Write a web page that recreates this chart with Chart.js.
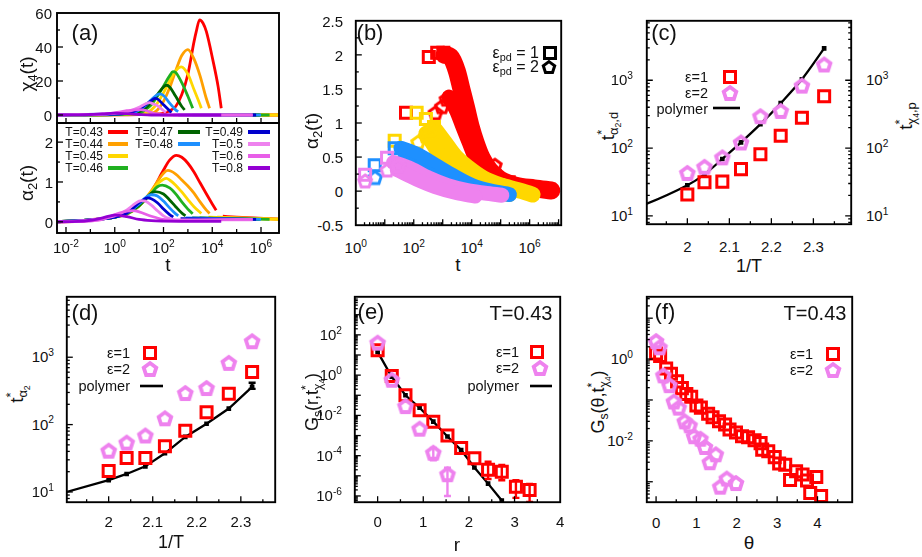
<!DOCTYPE html>
<html>
<head>
<meta charset="utf-8">
<title>alpha2 / chi4 panels</title>
<script src="https://cdn.jsdelivr.net/npm/chart.js@4.4.1/dist/chart.umd.min.js"></script>
<style>
  html, body { margin: 0; padding: 0; background: #fff; }
  body { position: relative; width: 922px; height: 557px; overflow: hidden;
         font-family: "Liberation Sans", Arial, Helvetica, sans-serif; color: #111; }
  canvas { position: absolute; }
  .lbl { position: absolute; white-space: nowrap; line-height: 1; }
  .sp { font-size: 0.68em; position: relative; top: -0.62em; }
  .sb { font-size: 0.68em; position: relative; top: 0.32em; }
</style>
</head>
<body>
<script>
// ============================================================
// DATA — values
// ============================================================

// (a) one array of [t, value] per temperature; [t, null] breaks the line
const tempLabels = ['T=0.43', 'T=0.44', 'T=0.45', 'T=0.46', 'T=0.47', 'T=0.48', 'T=0.49', 'T=0.5', 'T=0.6', 'T=0.8'];

const chi4_043 = [[4e-3,0],[1e1,0.3],[3.2e1,0.6],[1e2,1],[1.78e2,2.5],[3.16e2,5],[5.62e2,12],[1e3,24],[1.78e3,43],[2.2e3,49],[3.02e3,56],[4.2e3,54],[5.75e3,49],[1.07e4,32],[1.74e4,16.7],[2.34e4,4],[2.34e4,null],[3.2e4,0],[1e7,0]];
const chi4_044 = [[4e-3,0],[1e1,0.5],[3.16e1,1],[5.62e1,3],[1e2,8],[1.78e2,16],[3.16e2,26],[5.62e2,35],[1e3,38.5],[1.78e3,33],[3.16e3,23],[5.62e3,10],[7.76e3,4],[7.76e3,null],[1.78e4,0],[1e7,0]];
const chi4_045 = [[4e-3,0],[3.16e0,0.3],[1e1,0.8],[1.78e1,1],[3.16e1,3],[5.62e1,7],[1e2,13],[1.78e2,20],[3.16e2,26],[5.37e2,28.3],[1e3,24],[1.78e3,15],[3.16e3,6],[3.55e3,4],[3.55e3,null],[7e3,0],[1e7,0]];
const chi4_046 = [[4e-3,0],[1e0,0.2],[3.16e0,0.6],[1e1,1],[1.78e1,3],[3.16e1,6],[5.62e1,11],[1e2,17],[1.78e2,23],[2.45e2,25.5],[3.16e2,25],[5.62e2,19],[1e3,11],[1.58e3,4],[1.58e3,null],[3e3,0],[2.24e6,0]];
const chi4_047 = [[4e-3,0],[1e0,0.3],[3.16e0,1],[1e1,2],[1.78e1,4],[3.16e1,7.5],[5.62e1,12],[1e2,16.5],[1.32e2,17.5],[1.78e2,16.5],[3.16e2,11],[5.62e2,5],[7.4e2,3],[7.4e2,null],[1.5e3,0],[8.9e5,0]];
const chi4_048 = [[4e-3,0],[1e0,0.5],[5.62e0,1.5],[1e1,3],[1.78e1,5.5],[3.16e1,9],[5.62e1,12],[6.9e1,12.4],[1e2,11.5],[1.78e2,7],[3.16e2,3],[4e2,2],[4e2,null],[8e2,0],[1e6,0]];
const chi4_049 = [[4e-3,0],[3.16e-1,0.5],[3.16e0,1],[5.62e0,2],[1e1,3.5],[1.78e1,6],[3.16e1,8.5],[4.4e1,9.8],[5.62e1,9.5],[1e2,6],[1.78e2,2.5],[2.1e2,1.4],[2.1e2,null],[4e2,0],[6.3e5,0]];
const chi4_050 = [[4e-3,0],[1e-1,0.3],[1e0,1],[3.16e0,2],[5.62e0,3],[1e1,4.5],[1.78e1,6.5],[2.7e1,7.3],[3.16e1,7],[5.62e1,5.5],[1e2,2.5],[1.26e2,1.5],[1.26e2,null],[2.5e2,0],[4.5e5,0]];
const chi4_060 = [[4e-3,0],[3.16e-2,0.2],[3.16e-1,0.5],[1e0,1.3],[3.16e0,2.5],[1e1,3.2],[1.78e1,2.8],[3.16e1,1.5],[5.62e1,0.5],[1e2,0],[4.6e5,0]];
const chi4_080 = [[4e-3,0],[3.16e-2,0.1],[1e-1,0.3],[3.16e-1,0.7],[1e0,1.1],[3.16e0,0.8],[1e1,0.3],[3.16e1,0],[2.34e4,0]];

const a2_043 = [[4e-3,0],[3.16e-2,0.01],[1e-1,0.05],[3.16e-1,0.08],[1e0,0.12],[3.16e0,0.2],[1e1,0.4],[3.16e1,0.75],[1e2,1.3],[1.78e2,1.55],[3.39e2,1.67],[5.62e2,1.62],[1e3,1.47],[1.78e3,1.25],[3.16e3,0.98],[5.62e3,0.71],[1e4,0.45],[1.45e4,0.29],[1.45e4,null],[2.7e4,0.14],[1e5,0.12],[1e7,0.06]];
const a2_044 = [[4e-3,0],[1e-1,0.05],[1e0,0.12],[3.16e0,0.2],[1e1,0.4],[3.16e1,0.78],[1e2,1.22],[1.51e2,1.29],[3.16e2,1.2],[5.62e2,1.05],[1e3,0.9],[1.78e3,0.72],[3.16e3,0.5],[5.62e3,0.3],[7.76e3,0.21],[7.76e3,null],[1.6e4,0.12],[1e7,0.06]];
const a2_045 = [[4e-3,0],[1e-1,0.05],[1e0,0.12],[3.16e0,0.2],[1e1,0.4],[3.16e1,0.75],[5.62e1,0.95],[1e2,1.07],[1.32e2,1.09],[1.78e2,1.05],[3.16e2,0.92],[5.62e2,0.75],[1e3,0.56],[1.78e3,0.38],[3.55e3,0.21],[3.55e3,null],[7e3,0.12],[1e7,0.06]];
const a2_046 = [[4e-3,0],[1e-1,0.05],[1e0,0.12],[3.16e0,0.2],[1e1,0.4],[3.16e1,0.72],[5.62e1,0.88],[8.9e1,0.92],[1.78e2,0.85],[3.16e2,0.7],[5.62e2,0.5],[1e3,0.32],[1.58e3,0.2],[1.58e3,null],[3e3,0.1],[2.24e6,0.06]];
const a2_047 = [[4e-3,0],[1e-1,0.05],[1e0,0.12],[3.16e0,0.22],[1e1,0.42],[1.78e1,0.58],[3.16e1,0.72],[4.5e1,0.76],[1e2,0.7],[1.78e2,0.55],[3.16e2,0.38],[5.62e2,0.22],[7.9e2,0.15],[7.9e2,null],[1.5e3,0.1],[8.9e5,0.06]];
const a2_048 = [[4e-3,0],[1e-1,0.05],[1e0,0.12],[3.16e0,0.22],[1e1,0.45],[1.78e1,0.6],[3.16e1,0.68],[5.62e1,0.65],[1e2,0.52],[1.78e2,0.35],[3.16e2,0.2],[4e2,0.15],[4e2,null],[8e2,0.1],[1e6,0.06]];
const a2_049 = [[4e-3,0],[1e-1,0.05],[1e0,0.12],[3.16e0,0.22],[1e1,0.48],[1.78e1,0.58],[2.2e1,0.6],[3.16e1,0.58],[5.62e1,0.48],[1e2,0.32],[1.78e2,0.18],[2.5e2,0.12],[2.5e2,null],[5e2,0.08],[6.3e5,0.06]];
const a2_050 = [[4e-3,0],[1e-1,0.05],[1e0,0.15],[3.16e0,0.3],[5.62e0,0.42],[1e1,0.52],[1.26e1,0.53],[1.78e1,0.52],[3.16e1,0.42],[5.62e1,0.28],[1e2,0.15],[1.78e2,0.08],[3.16e2,0.05],[4.5e5,0.05]];
const a2_060 = [[4e-3,0],[1e-1,0.02],[3.16e-1,0.06],[1e0,0.18],[3.16e0,0.27],[5.62e0,0.28],[1e1,0.25],[3.16e1,0.14],[1e2,0.06],[3.16e2,0.03],[1e5,0.06],[4.6e5,0.06]];
const a2_080 = [[4e-3,0],[3.16e-2,0.01],[1e-1,0.04],[3.16e-1,0.1],[1e0,0.17],[3.16e0,0.13],[1e1,0.06],[3.16e1,0.03],[1e2,0.02],[2.34e4,0.01]];

// (b) alpha_2(t): isolated markers plus the dense marker bands, eps_pd = 1 and 2
const bRedSq    = [[54,1.15],[331,1.97],[646,2.03],[1050,2.03],[6.3e4,0.22],[1.9e5,0.13]];
const bRedBand1 = [[1.15e3,2.0],[1.86e3,1.97],[3.09e3,1.76],[4.47e3,1.49],[6.46e3,1.22],[9.33e3,0.94],[1.35e4,0.72],[2.19e4,0.49],[4.07e4,0.31],[9.55e4,0.17],[3.31e5,0.08],[1.45e6,0.04],[5.62e6,0.01]];
const bRedPt    = [[562,1.15],[933,1.24],[1350,1.35],[6.3e4,0.38]];
const bRedBand2 = [[1.66e3,1.38],[3.09e3,1.17],[5.01e3,0.94],[8.13e3,0.72],[1.35e4,0.49],[2.82e4,0.31],[7.59e4,0.17],[2.57e5,0.1]];
const bYelSq    = [[22,0.74],[126,1.15],[263,1.06],[501,0.94]];
const bYelBand1 = [[550,0.9],[1.15e3,0.72],[2.69e3,0.51],[7.24e3,0.35],[2.51e4,0.19],[1.1e5,0.08],[5.37e5,0],[1.26e6,-0.05]];
const bYelPt    = [[141,0.72],[263,0.81],[380,0.9]];
const bYelBand2 = [[263,0.85],[490,0.67],[1e3,0.47],[2.69e3,0.29],[1.05e4,0.13],[4.57e4,0.01],[2e5,-0.05]];
const bBluSq    = [[4.5,0.38],[22,0.63]];
const bBluBand1 = [[36,0.63],[126,0.54],[550,0.38],[2.4e3,0.22],[1.05e4,0.08],[4.57e4,0],[2e5,-0.05]];
const bBluPt    = [[4.6,0.2]];
const bBluBand2 = [[40,0.45],[204,0.31],[1.15e3,0.15],[6.46e3,0.04],[2.82e4,-0.03]];
const bVioSq    = [[2.1,0.24],[12,0.49]];
const bVioBand1 = [[20,0.42],[76,0.33],[331,0.19],[1.48e3,0.08],[6.46e3,0.01],[2.82e4,-0.03],[1.1e5,-0.06]];
const bVioPt    = [[2.1,0.15],[12.3,0.31],[29,0.38]];
const bVioBand2 = [[26,0.31],[126,0.17],[550,0.06],[3.09e3,-0.03],[1.35e4,-0.08]];

// (c), (d) characteristic times vs 1/T
const invT      = [2.0, 2.0408, 2.0833, 2.1277, 2.1739, 2.2222, 2.2727, 2.3256];
const polyInvT  = [1.6667, 2.0, 2.0408, 2.0833, 2.1277, 2.1739, 2.2222, 2.2727, 2.3256];
const cEps1 = [20.6, 31.4, 32, 48.9, 81, 152, 280, 580];
const cEps2 = [43, 53, 73, 121, 295, 353, 835, 1710];
const cPoly = [4.3, 28.3, 41, 69, 121, 225, 459, 1032, 2950];
const dEps1 = [20.5, 32, 32, 47.8, 81, 152, 288, 603];
const dEps2 = [41, 54, 69, 124, 294, 349, 826, 1730];
const dPoly = [3.65, 15, 18.5, 24, 37.5, 65.6, 103, 173, 363];
const dPolyErrLo = [null, null, null, null, null, null, null, null, 339];
const dPolyErrHi = [null, null, null, null, null, null, null, null, 417];

// (e) G_s(r, t*) at T=0.43
const eR    = [0, 0.31, 0.61, 0.92, 1.22, 1.53, 1.83, 2.12, 2.42, 2.72, 3.03, 3.33];
const eEps1 = [17, 0.9, 0.1, 0.018, 0.0049, 1e-3, 2.4e-4, 7.5e-5, 2e-5, 1.6e-5, 2.9e-6, 2e-6];
const eEps1ErrLo = [null, null, null, null, null, null, null, null, 7e-6, 6e-6, 8e-7, 5e-7];
const eEps1ErrHi = [null, null, null, null, null, null, null, null, 5e-5, 3.5e-5, 6e-6, 4e-6];
const eEps2 = [41, 0.59, 0.029, 2.2e-3, 1.4e-4, 1.2e-5];
const eEps2ErrLo = [null, null, null, null, 5.9e-5, 1e-6];
const eEps2ErrHi = [null, null, null, null, 2.4e-4, 2.5e-5];
const ePoly = [14.3, 0.83, 0.1, 0.024, 0.0049, 9e-4, 1.9e-4, 2.6e-5, 4.1e-6, 5.9e-7];

// (f) G_s(theta, t*) at T=0.43
const fTh1  = [0, 0.1, 0.25, 0.37, 0.52, 0.64, 0.75, 0.87, 1.0, 1.11, 1.29, 1.4, 1.56, 1.71, 1.82, 1.98, 2.13, 2.28, 2.44, 2.59, 2.63, 2.78, 2.94, 3.05, 3.2, 3.32, 3.47, 3.63, 3.74, 3.82, 3.97, 4.09];
const fEps1 = [1.37, 1.19, 0.59, 0.44, 0.285, 0.195, 0.14, 0.12, 0.073, 0.065, 0.046, 0.038, 0.03, 0.025, 0.019, 0.016, 0.013, 0.0123, 0.0104, 0.0088, 0.0061, 0.0056, 0.004, 0.0028, 0.0026, 0.0011, 0.0018, 0.0015, 0.00107, 5.3e-4, 1.3e-3, 4.5e-4];
const fTh2  = [0, 0.085, 0.18, 0.33, 0.44, 0.56, 0.71, 0.83, 0.94, 1.1, 1.21, 1.33, 1.48, 1.59, 1.75, 1.98];
const fEps2 = [2.75, 1.94, 0.4, 0.23, 0.092, 0.065, 0.03, 0.024, 0.013, 0.0113, 0.0071, 0.003, 0.0047, 7.6e-4, 1.2e-3, 9.3e-4];

// tick labels
const aXTickExp = [-2, 0, 2, 4, 6];
const a1YTicks = [0, 20, 40, 60];
const a2YTicks = [0, 1, 2];
const bXTickExp = [0, 2, 4, 6];
const bYTicks = [-0.5, 0, 0.5, 1, 1.5, 2, 2.5];
const cdXTicks = [2, 2.1, 2.2, 2.3];
const cdYTickExp = [1, 2, 3];
const efXTicks = [0, 1, 2, 3, 4];
const eYTickExp = [-6, -4, -2, 0, 2];
const fYTickExp = [-2, 0];

// ============================================================
// STYLE
// ============================================================
const tempColors = ['#ff0000', '#ffa000', '#ffd700', '#20b020', '#006400', '#1e90ff', '#0000cd', '#ee82ee', '#e85ee8', '#9400d3'];
const RED = '#ff0000', YEL = '#ffd700', BLU = '#1e90ff', VIO = '#ee82ee';
const PAD = 3;

// plot rectangles in page pixels
const R = {
  a1: { l: 57,  t: 13,  r: 279, b: 123 },
  a2: { l: 57,  t: 123, r: 279, b: 233 },
  b:  { l: 348, t: 13,  r: 569, b: 233 },
  c:  { l: 639, t: 13,  r: 859, b: 232 },
  d:  { l: 59,  t: 289, r: 283, b: 510 },
  e:  { l: 347, t: 289, r: 568, b: 510 },
  f:  { l: 639, t: 289, r: 860, b: 510 }
};

// ============================================================
// HELPERS
// ============================================================
const zip = (xs, ys) => xs.map((x, i) => [x, ys[i]]);
const pow10 = e => '10<span class="sp">' + e + '</span>';

function range(a, b, step) {
  const out = [];
  for (let v = a; v <= b + 1e-9; v += step) out.push(+v.toFixed(6));
  return out;
}
function decades(e0, e1) {
  const out = [];
  for (let e = e0; e <= e1; e++) out.push(Math.pow(10, e));
  return out;
}
function logMinors(e0, e1) {
  const out = [];
  for (let e = e0; e <= e1; e++) for (let k = 2; k <= 9; k++) out.push(k * Math.pow(10, e));
  return out;
}

function pentagon(color, r, lw) {
  const s = Math.ceil(2 * r + lw + 3);
  const c = document.createElement('canvas');
  c.width = c.height = s;
  const g = c.getContext('2d');
  g.beginPath();
  for (let i = 0; i < 5; i++) {
    const a = -Math.PI / 2 + i * 2 * Math.PI / 5;
    const x = s / 2 + r * Math.cos(a), y = s / 2 + r * Math.sin(a) + r * 0.1;
    if (i) g.lineTo(x, y); else g.moveTo(x, y);
  }
  g.closePath();
  g.lineWidth = lw;
  g.strokeStyle = color;
  g.stroke();
  return c;
}

function txt(html, x, y, o = {}) {
  const d = document.createElement('div');
  d.className = 'lbl';
  d.innerHTML = html;
  d.style.fontSize = (o.size || 15) + 'px';
  d.style.left = x + 'px';
  d.style.top = y + 'px';
  const ax = o.align === 'right' ? '-100%' : o.align === 'left' ? '0' : '-50%';
  d.style.transform = `translate(${ax},-50%)` + (o.rot ? ' rotate(-90deg)' : '');
  document.body.appendChild(d);
}

function lineDs(data, color, width, extra) {
  return Object.assign({
    data, borderColor: color, backgroundColor: color, borderWidth: width,
    pointRadius: 0, tension: 0, spanGaps: false, fill: false, clip: 0
  }, extra || {});
}
function markDs(data, style, color, extra) {
  return Object.assign({
    data, showLine: false, pointStyle: style, pointRadius: 7.8,
    pointBorderColor: color, pointBackgroundColor: 'rgba(0,0,0,0)',
    pointBorderWidth: 3, clip: 0
  }, extra || {});
}
function polyDs(data, extra) {
  return lineDs(data, '#000', 2.3, Object.assign({
    pointRadius: 3.3, pointStyle: 'rect', pointBackgroundColor: '#000', pointBorderWidth: 0
  }, extra || {}));
}

// ============================================================
// DECOR PLUGIN — frame, inward ticks, error bars, legend symbols
// ============================================================
const DECOR = {};

const decorPlugin = {
  id: 'decor',
  afterDatasetsDraw(chart) {
    const spec = DECOR[chart.canvas.id];
    if (!spec) return;
    const ctx = chart.ctx, a = chart.chartArea;
    const rect = spec.rect;
    ctx.save();

    // error bars
    chart.data.datasets.forEach((ds, di) => {
      if (!ds.errLo) return;
      const meta = chart.getDatasetMeta(di);
      const ys = chart.scales.y;
      ctx.save();
      ctx.beginPath();
      ctx.rect(a.left, a.top, a.right - a.left, a.bottom - a.top);
      ctx.clip();
      ctx.strokeStyle = ds.errColor;
      ctx.lineWidth = 2.4;
      ds.errLo.forEach((lo, j) => {
        if (lo == null) return;
        const x = meta.data[j].x;
        const y1 = ys.getPixelForValue(lo), y2 = ys.getPixelForValue(ds.errHi[j]);
        ctx.beginPath();
        ctx.moveTo(x, y1); ctx.lineTo(x, y2);
        ctx.moveTo(x - 3.5, y1); ctx.lineTo(x + 3.5, y1);
        ctx.moveTo(x - 3.5, y2); ctx.lineTo(x + 3.5, y2);
        ctx.stroke();
      });
      ctx.restore();
    });

    // frame
    ctx.strokeStyle = '#000';
    ctx.lineWidth = 1.9;
    ctx.strokeRect(a.left, a.top, a.right - a.left, a.bottom - a.top);

    // ticks pointing into the plot
    ctx.lineWidth = 1.3;
    (spec.ticks || []).forEach(t => {
      const sc = chart.scales[t.axis];
      t.values.forEach(v => {
        const p = sc.getPixelForValue(v);
        ctx.beginPath();
        if (t.axis === 'x') {
          if (p <= a.left + 1 || p >= a.right - 1) return;
          t.sides.forEach(s => {
            const y0 = s === 'top' ? a.top : a.bottom;
            const dir = s === 'top' ? 1 : -1;
            ctx.moveTo(p, y0); ctx.lineTo(p, y0 + dir * t.len);
          });
        } else {
          if (p <= a.top + 1 || p >= a.bottom - 1) return;
          t.sides.forEach(s => {
            const x0 = s === 'right' ? a.right : a.left;
            const dir = s === 'right' ? -1 : 1;
            ctx.moveTo(x0, p); ctx.lineTo(x0 + dir * t.len, p);
          });
        }
        ctx.stroke();
      });
    });

    // legend symbols (page coordinates)
    const ox = rect.l - PAD, oy = rect.t - PAD;
    (spec.syms || []).forEach(s => {
      if (s.k === 'line') {
        ctx.strokeStyle = s.color;
        ctx.lineWidth = s.w;
        ctx.beginPath();
        ctx.moveTo(s.x1 - ox, s.y - oy);
        ctx.lineTo(s.x2 - ox, s.y - oy);
        ctx.stroke();
      } else if (s.k === 'rect') {
        ctx.strokeStyle = s.color;
        ctx.lineWidth = 3;
        ctx.strokeRect(s.x - ox - 5.5, s.y - oy - 5.5, 11, 11);
      } else if (s.k === 'pent') {
        ctx.drawImage(s.img, s.x - ox - s.img.width / 2, s.y - oy - s.img.height / 2);
      }
    });
    ctx.restore();
  }
};

function makePanel(id, rect, xOpt, yOpt, datasets, decor) {
  const cv = document.createElement('canvas');
  cv.id = id;
  cv.width = rect.r - rect.l + 2 * PAD;
  cv.height = rect.b - rect.t + 2 * PAD;
  cv.style.left = (rect.l - PAD) + 'px';
  cv.style.top = (rect.t - PAD) + 'px';
  document.body.appendChild(cv);

  DECOR[id] = Object.assign({ rect }, decor);
  // first dataset in the list is drawn first (bottom)
  datasets.forEach((d, i) => { d.order = datasets.length - i; });

  return new Chart(cv.getContext('2d'), {
    type: 'line',
    data: { datasets },
    options: {
      responsive: false,
      animation: false,
      events: [],
      layout: { padding: PAD },
      plugins: { legend: { display: false }, tooltip: { enabled: false } },
      scales: {
        x: Object.assign({ display: false, bounds: 'data' }, xOpt),
        y: Object.assign({ display: false, bounds: 'data' }, yOpt)
      }
    },
    plugins: [decorPlugin]
  });
}

function xLabels(chart, rect, values, fmt, y, size) {
  values.forEach(v => txt(fmt(v), rect.l - PAD + chart.scales.x.getPixelForValue(v), y, { size }));
}
function yLabels(chart, rect, values, fmt, x, align, size) {
  values.forEach(v => txt(fmt(v), x, rect.t - PAD + chart.scales.y.getPixelForValue(v), { size, align }));
}

// ============================================================
// MARKER IMAGES
// ============================================================
const pentVio = pentagon(VIO, 6.6, 3.8);
const pentRed = pentagon(RED, 6.6, 3);
const pentYel = pentagon(YEL, 6.6, 3);
const pentBlu = pentagon(BLU, 6.6, 3);
const pentVio2 = pentagon(VIO, 6.6, 3);
const pentBlack = pentagon('#000', 6, 3);

// ============================================================
// (a) chi_4(t) and alpha_2(t)
// ============================================================
const chi4Series = [chi4_043, chi4_044, chi4_045, chi4_046, chi4_047, chi4_048, chi4_049, chi4_050, chi4_060, chi4_080];
const a2Series = [a2_043, a2_044, a2_045, a2_046, a2_047, a2_048, a2_049, a2_050, a2_060, a2_080];
const aX = { type: 'logarithmic', min: Math.pow(10, -2.369), max: Math.pow(10, 6.738) };
const smooth = { cubicInterpolationMode: 'monotone' };

const chartA1 = makePanel('pa1', R.a1, aX, { type: 'linear', min: -4.7, max: 60 },
  chi4Series.map((s, i) => lineDs(s, tempColors[i], 2.8, smooth)),
  { ticks: [
      { axis: 'x', values: decades(-2, 6), len: 5, sides: ['bottom'] },
      { axis: 'y', values: a1YTicks, len: 6, sides: ['left'] },
      { axis: 'y', values: [10, 30, 50], len: 3, sides: ['left'] }
  ] });

const aLegendSyms = [];
const aLegendCols = [
  { items: [0, 1, 2, 3], tx: 103, x1: 108, x2: 128 },
  { items: [4, 5], tx: 173, x1: 178, x2: 200 },
  { items: [6, 7, 8, 9], tx: 243, x1: 248, x2: 270 }
];
const aLegendRows = [132, 144, 156, 168];
aLegendCols.forEach(col => col.items.forEach((ti, r) => {
  aLegendSyms.push({ k: 'line', x1: col.x1, x2: col.x2, y: aLegendRows[r], color: tempColors[ti], w: 4 });
}));

const chartA2 = makePanel('pa2', R.a2, aX, { type: 'linear', min: -0.28, max: 2.48 },
  a2Series.map((s, i) => lineDs(s, tempColors[i], 2.8, smooth)),
  { ticks: [
      { axis: 'x', values: decades(-2, 6).filter((v, i) => i % 2 === 0), len: 6, sides: ['bottom'] },
      { axis: 'x', values: decades(-1, 5).filter((v, i) => i % 2 === 0), len: 4, sides: ['bottom'] },
      { axis: 'y', values: a2YTicks, len: 6, sides: ['left'] },
      { axis: 'y', values: [0.5, 1.5], len: 3, sides: ['left'] }
  ], syms: aLegendSyms });

yLabels(chartA1, R.a1, a1YTicks, String, 52, 'right', 15);
yLabels(chartA2, R.a2, a2YTicks, String, 53, 'right', 15);
xLabels(chartA2, R.a2, aXTickExp.map(e => Math.pow(10, e)), v => pow10(Math.round(Math.log10(v))), 248, 15);
txt('t', 168, 264, { size: 19 });
txt('χ<span class="sb">4</span>(t)', 26, 74, { size: 19, rot: true });
txt('α<span class="sb">2</span>(t)', 26, 183, { size: 19, rot: true });
txt('(a)', 85, 33, { size: 22 });
aLegendCols.forEach(col => col.items.forEach((ti, r) => {
  txt(tempLabels[ti], col.tx, aLegendRows[r], { size: 12, align: 'right' });
}));

// ============================================================
// (b) alpha_2(t) for eps_pd = 1, 2
// ============================================================
const band = { borderCapStyle: 'round', borderJoinStyle: 'round', cubicInterpolationMode: 'monotone' };
const chartB = makePanel('pb', R.b, { type: 'logarithmic', min: 1, max: Math.pow(10, 7.09) }, { type: 'linear', min: -0.5, max: 2.5 }, [
  lineDs(bRedBand1, RED, 18, band),
  lineDs(bRedBand2, RED, 15, band),
  markDs(bRedSq, 'rect', RED),
  markDs(bRedPt, pentRed, RED),
  lineDs(bYelBand1, YEL, 16, band),
  lineDs(bYelBand2, YEL, 15, band),
  markDs(bYelSq, 'rect', YEL),
  markDs(bYelPt, pentYel, YEL),
  lineDs(bBluBand1, BLU, 15, band),
  lineDs(bBluBand2, BLU, 13, band),
  markDs(bBluSq, 'rect', BLU),
  markDs(bBluPt, pentBlu, BLU),
  lineDs(bVioBand1, VIO, 15, band),
  lineDs(bVioBand2, VIO, 14, band),
  markDs(bVioSq, 'rect', VIO),
  markDs(bVioPt, pentVio2, VIO)
], { ticks: [
    { axis: 'x', values: decades(0, 7), len: 6, sides: ['bottom'] },
    { axis: 'x', values: logMinors(0, 6), len: 3, sides: ['bottom'] },
    { axis: 'y', values: range(-0.5, 2.5, 0.5), len: 6, sides: ['left'] },
    { axis: 'y', values: range(-0.25, 2.25, 0.5), len: 3, sides: ['left'] }
  ], syms: [
    { k: 'rect', x: 550, y: 53, color: '#000' },
    { k: 'pent', x: 549, y: 67, img: pentBlack }
  ] });

yLabels(chartB, R.b, bYTicks, String, 343, 'right', 15);
xLabels(chartB, R.b, bXTickExp.map(e => Math.pow(10, e)), v => pow10(Math.round(Math.log10(v))), 248, 15);
txt('t', 458, 264, { size: 19 });
txt('α<span class="sb">2</span>(t)', 311, 131, { size: 19, rot: true });
txt('(b)', 370, 33, { size: 22 });
txt('ε<span class="sb">pd</span> = 1', 539, 53, { size: 16, align: 'right' });
txt('ε<span class="sb">pd</span> = 2', 539, 67, { size: 16, align: 'right' });

// ============================================================
// (c) t*_{alpha2,d} and t*_{chi4,p} vs 1/T
// ============================================================
const logTicksCD = [
  { axis: 'x', values: cdXTicks, len: 6, sides: ['bottom'] },
  { axis: 'x', values: range(1.95, 2.35, 0.1), len: 3, sides: ['bottom'] }
];
const chartC = makePanel('pc', R.c, { type: 'linear', min: 1.9035, max: 2.39 }, { type: 'logarithmic', min: Math.pow(10, 0.877), max: Math.pow(10, 3.877) }, [
  polyDs(zip(polyInvT, cPoly), { cubicInterpolationMode: 'monotone' }),
  markDs(zip(invT, cEps1), 'rect', RED),
  markDs(zip(invT, cEps2), pentVio, VIO)
], { ticks: logTicksCD.concat([
    { axis: 'y', values: decades(1, 3), len: 6, sides: ['left', 'right'] },
    { axis: 'y', values: logMinors(0, 3), len: 3, sides: ['left', 'right'] }
  ]), syms: [
    { k: 'rect', x: 730, y: 77, color: RED },
    { k: 'pent', x: 730, y: 93, img: pentVio },
    { k: 'line', x1: 713, x2: 740, y: 108, color: '#000', w: 2.6 }
  ] });

xLabels(chartC, R.c, cdXTicks, String, 246, 15);
yLabels(chartC, R.c, cdYTickExp.map(e => Math.pow(10, e)), v => pow10(Math.round(Math.log10(v))), 633, 'right', 15);
yLabels(chartC, R.c, cdYTickExp.map(e => Math.pow(10, e)), v => pow10(Math.round(Math.log10(v))), 866, 'left', 15);
txt('1/T', 749, 266, { size: 18 });
txt('t<span class="sp">*</span><span class="sb" style="margin-left:-0.4em">α<span class="sb">2</span>,d</span>', 607, 126, { size: 19, rot: true });
txt('t<span class="sp">*</span><span class="sb" style="margin-left:-0.4em">χ<span class="sb">4</span>,p</span>', 905, 116, { size: 19, rot: true });
txt('(c)', 664, 33, { size: 22 });
txt('ε=1', 708, 77, { size: 14.5, align: 'right' });
txt('ε=2', 708, 93, { size: 14.5, align: 'right' });
txt('polymer', 708, 109, { size: 14.5, align: 'right' });

// ============================================================
// (d) t*_{alpha2} vs 1/T
// ============================================================
const chartD = makePanel('pd', R.d, { type: 'linear', min: 1.905, max: 2.378 }, { type: 'logarithmic', min: Math.pow(10, 0.848), max: Math.pow(10, 3.897) }, [
  polyDs(zip(polyInvT, dPoly), { errLo: dPolyErrLo, errHi: dPolyErrHi, errColor: '#000' }),
  markDs(zip(invT, dEps1), 'rect', RED),
  markDs(zip(invT, dEps2), pentVio, VIO)
], { ticks: logTicksCD.concat([
    { axis: 'y', values: decades(1, 3), len: 6, sides: ['left'] },
    { axis: 'y', values: logMinors(0, 3), len: 3, sides: ['left'] }
  ]), syms: [
    { k: 'rect', x: 150, y: 353, color: RED },
    { k: 'pent', x: 150, y: 369, img: pentVio },
    { k: 'line', x1: 140, x2: 163, y: 386, color: '#000', w: 2.6 }
  ] });

xLabels(chartD, R.d, cdXTicks, String, 521, 15);
yLabels(chartD, R.d, cdYTickExp.map(e => Math.pow(10, e)), v => pow10(Math.round(Math.log10(v))), 54, 'right', 15);
txt('1/T', 171, 542, { size: 18 });
txt('t<span class="sp">*</span><span class="sb" style="margin-left:-0.4em">α<span class="sb">2</span></span>', 16, 394, { size: 19, rot: true });
txt('(d)', 85, 313, { size: 22 });
txt('ε=1', 130, 353, { size: 14.5, align: 'right' });
txt('ε=2', 130, 369, { size: 14.5, align: 'right' });
txt('polymer', 130, 386, { size: 14.5, align: 'right' });

// ============================================================
// (e) G_s(r, t*_chi4)
// ============================================================
const chartE = makePanel('pe', R.e, { type: 'linear', min: -0.5, max: 4.0 }, { type: 'logarithmic', min: Math.pow(10, -6.31), max: Math.pow(10, 3.89) }, [
  polyDs(zip(eR, ePoly)),
  markDs(zip(eR, eEps1), 'rect', RED, { errLo: eEps1ErrLo, errHi: eEps1ErrHi, errColor: RED }),
  markDs(zip(eR, eEps2), pentVio, VIO, { errLo: eEps2ErrLo, errHi: eEps2ErrHi, errColor: VIO })
], { ticks: [
    { axis: 'x', values: efXTicks, len: 6, sides: ['bottom'] },
    { axis: 'x', values: range(-0.5, 3.5, 1), len: 3, sides: ['bottom'] },
    { axis: 'y', values: decades(-6, 3), len: 6, sides: ['left'] },
    { axis: 'y', values: logMinors(-7, 3), len: 3, sides: ['left'] }
  ], syms: [
    { k: 'rect', x: 537, y: 352, color: RED },
    { k: 'pent', x: 540, y: 368, img: pentVio },
    { k: 'line', x1: 530, x2: 552, y: 386, color: '#000', w: 2.6 }
  ] });

xLabels(chartE, R.e, efXTicks, String, 521, 15);
yLabels(chartE, R.e, eYTickExp.map(e => Math.pow(10, e)), v => pow10(Math.round(Math.log10(v))), 342, 'right', 15);
txt('r', 457, 544, { size: 19 });
txt('G<span class="sb">s</span>(r,t<span class="sp">*</span><span class="sb" style="margin-left:-0.4em">χ<span class="sb">4</span></span>)', 312, 402, { size: 18, rot: true });
txt('(e)', 371, 312, { size: 22 });
txt('T=0.43', 521, 313, { size: 20 });
txt('ε=1', 519, 352, { size: 14.5, align: 'right' });
txt('ε=2', 519, 368, { size: 14.5, align: 'right' });
txt('polymer', 519, 386, { size: 14.5, align: 'right' });

// ============================================================
// (f) G_s(theta, t*_chi4)
// ============================================================
const chartF = makePanel('pf', R.f, { type: 'linear', min: -0.23, max: 4.86 }, { type: 'logarithmic', min: Math.pow(10, -3.5), max: Math.pow(10, 1.523) }, [
  markDs(zip(fTh1, fEps1), 'rect', RED),
  markDs(zip(fTh2, fEps2), pentVio, VIO)
], { ticks: [
    { axis: 'x', values: efXTicks, len: 6, sides: ['bottom'] },
    { axis: 'x', values: range(0.5, 4.5, 1), len: 3, sides: ['bottom'] },
    { axis: 'y', values: decades(-3, 1), len: 6, sides: ['left'] },
    { axis: 'y', values: logMinors(-4, 1), len: 3, sides: ['left'] }
  ], syms: [
    { k: 'rect', x: 833, y: 354, color: RED },
    { k: 'pent', x: 833, y: 370, img: pentVio }
  ] });

xLabels(chartF, R.f, efXTicks, String, 522, 15);
yLabels(chartF, R.f, fYTickExp.map(e => Math.pow(10, e)), v => pow10(Math.round(Math.log10(v))), 633, 'right', 15);
txt('θ', 749, 542, { size: 19 });
txt('G<span class="sb">s</span>(θ,t<span class="sp">*</span><span class="sb" style="margin-left:-0.4em">χ<span class="sb">4</span></span>)', 598, 402, { size: 18, rot: true });
txt('(f)', 665, 312, { size: 22 });
txt('T=0.43', 815, 313, { size: 20 });
txt('ε=1', 813, 354, { size: 14.5, align: 'right' });
txt('ε=2', 813, 370, { size: 14.5, align: 'right' });
</script>
</body>
</html>
